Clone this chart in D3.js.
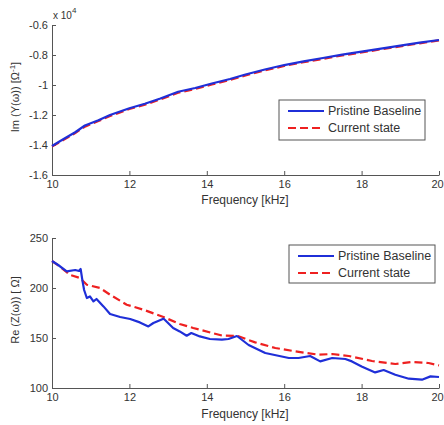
<!DOCTYPE html>
<html>
<head>
<meta charset="utf-8">
<script src="https://cdn.jsdelivr.net/npm/d3@7"></script>
<style>
  body { margin: 0; background: #fff; }
  svg { display: block; font-family: "Liberation Sans", Arial, sans-serif; }
  .axis path, .axis line { stroke: #555; }
  .axis text { fill: #333; font-size: 11px; }
</style>
</head>
<body>
<div class="chart"></div>
<script>
// Data (top panel values in units of 1e4)
const xTicks = [10, 12, 14, 16, 18, 20];
const topTicks = [-1.6, -1.4, -1.2, -1, -0.8, -0.6];
const topTickLabels = ['-1.6', '-1.4', '-1.2', '-1', '-0.8', '-0.6'];
const botTicks = [100, 150, 200, 250];

const topFreq = [10, 10.3, 10.6, 10.85, 11.2, 11.5, 12, 12.4, 12.8, 13.26, 13.7, 14.13, 14.6, 15, 15.5, 16, 16.5, 17, 17.5, 18, 18.5, 19, 19.5, 20];
const topPristine = [-1.407, -1.36, -1.315, -1.27, -1.235, -1.2, -1.155, -1.125, -1.09, -1.045, -1.02, -0.99, -0.96, -0.93, -0.897, -0.867, -0.843, -0.82, -0.798, -0.778, -0.757, -0.737, -0.718, -0.70];
const topCurrent = [-1.41, -1.366, -1.32, -1.278, -1.24, -1.207, -1.16, -1.131, -1.096, -1.052, -1.026, -0.997, -0.966, -0.936, -0.903, -0.873, -0.848, -0.826, -0.803, -0.783, -0.762, -0.742, -0.722, -0.703];

const botFreqPristine = [10, 10.16, 10.38, 10.6, 10.7, 10.74, 10.79, 10.83, 10.9, 10.98, 11.07, 11.15, 11.33, 11.5, 11.76, 12.02, 12.27, 12.49, 12.62, 12.88, 12.92, 13.13, 13.3, 13.48, 13.6, 13.82, 14.08, 14.39, 14.56, 14.78, 15.08, 15.51, 16.12, 16.37, 16.67, 16.93, 17.24, 17.58, 17.75, 18.0, 18.35, 18.57, 18.87, 19.22, 19.56, 19.78, 20];
const botPristine = [227, 223, 216.6, 218, 217, 219, 206.6, 198, 190, 191.6, 186.6, 189, 181.6, 174, 171, 169, 165.6, 161.6, 165, 169.3, 168, 160, 156.6, 152.3, 155, 151.6, 149, 148.3, 149, 152, 143, 135, 130, 130, 132, 126.6, 130, 129, 126.6, 121.6, 115.6, 118, 113.3, 109.3, 108.3, 111.6, 111];

const botFreqCurrent = [10, 10.2, 10.47, 10.72, 10.9, 11.24, 11.5, 11.93, 12.36, 12.88, 13.3, 13.65, 14.39, 14.8, 15.25, 15.77, 16.29, 16.89, 17.24, 17.67, 18.27, 18.87, 19.3, 19.73, 20];
const botCurrent = [227, 221.6, 213, 210, 203.3, 200, 193.3, 183.3, 178.3, 171, 164, 160, 152.5, 152, 145.6, 140, 136.6, 133.3, 134, 132, 127, 124, 126, 125, 122.6];

const seriesNames = ['Pristine Baseline', 'Current state'];
const blue = '#1f2fd8';
const red = '#ee2020';

// Base
const svg = d3.select('.chart')
  .append('svg')
  .attr('width', 444)
  .attr('height', 425);

// Scales
const xScale = d3.scaleLinear().domain([10, 20]).range([52, 439]);
const yTop = d3.scaleLinear().domain([-1.6, -0.6]).range([175, 25]);
const yBot = d3.scaleLinear().domain([100, 250]).range([388, 238]);

function drawPanel(yScale, yTickVals, yTickFmt, bottomY) {
  const xAxis = d3.axisBottom(xScale)
    .tickValues(xTicks)
    .tickSizeInner(-4)
    .tickSizeOuter(0)
    .tickPadding(5);
  const gx = svg.append('g')
    .attr('class', 'x axis')
    .attr('transform', `translate(0, ${bottomY})`)
    .call(xAxis);
  gx.selectAll('text').attr('dy', '0.71em');
  // keep the last label inside the window
  gx.selectAll('.tick').filter(d => d === 20).select('text').attr('dx', -2);

  const yAxis = d3.axisLeft(yScale)
    .tickValues(yTickVals)
    .tickFormat(yTickFmt)
    .tickSizeInner(-4)
    .tickSizeOuter(0)
    .tickPadding(4);
  svg.append('g')
    .attr('class', 'y axis')
    .attr('transform', `translate(${xScale(10)}, 0)`)
    .call(yAxis);
}

function drawLine(xs, ys, yScale, color, dashed) {
  const line = d3.line()
    .x((d, i) => xScale(xs[i]))
    .y(d => yScale(d));
  svg.append('path')
    .datum(ys)
    .attr('d', line)
    .attr('fill', 'none')
    .attr('stroke', color)
    .attr('stroke-width', 2.2)
    .attr('stroke-dasharray', dashed ? '8,4' : null)
    .attr('stroke-linejoin', 'round');
}

function drawLegend(x, y, w, h) {
  const g = svg.append('g').attr('transform', `translate(${x}, ${y})`);
  g.append('rect')
    .attr('width', w).attr('height', h)
    .attr('fill', '#fff').attr('stroke', '#555');
  seriesNames.forEach((name, i) => {
    const ly = 11 + i * 17;
    g.append('line')
      .attr('x1', 9).attr('x2', 45)
      .attr('y1', ly).attr('y2', ly)
      .attr('stroke', i === 0 ? blue : red)
      .attr('stroke-width', 2.2)
      .attr('stroke-dasharray', i === 0 ? null : '8,4');
    g.append('text')
      .attr('x', 49).attr('y', ly + 4)
      .style('font-size', '12.5px')
      .style('fill', '#333')
      .text(name);
  });
}

// Top panel
drawPanel(yTop, topTicks, (d, i) => topTickLabels[i], 175);
drawLine(topFreq, topCurrent, yTop, red, true);
drawLine(topFreq, topPristine, yTop, blue, false);
drawLegend(279, 100, 146, 40);

const mult = svg.append('text')
  .attr('x', 53).attr('y', 19)
  .style('font-size', '10px').style('fill', '#333');
mult.append('tspan').text('x 10');
mult.append('tspan').attr('dy', -6).style('font-size', '8px').text('4');

// Bottom panel
drawPanel(yBot, botTicks, d3.format('d'), 388);
drawLine(botFreqCurrent, botCurrent, yBot, red, true);
drawLine(botFreqPristine, botPristine, yBot, blue, false);
drawLegend(289, 245, 146, 38);

// Axis labels
svg.append('text')
  .attr('x', 245).attr('y', 204)
  .attr('text-anchor', 'middle')
  .style('font-size', '12px').style('fill', '#333')
  .text('Frequency [kHz]');
svg.append('text')
  .attr('x', 245).attr('y', 418)
  .attr('text-anchor', 'middle')
  .style('font-size', '12px').style('fill', '#333')
  .text('Frequency [kHz]');

const ylab1 = svg.append('text')
  .attr('transform', 'translate(19, 97) rotate(-90)')
  .attr('text-anchor', 'middle')
  .style('font-size', '11px').style('fill', '#333');
ylab1.append('tspan').text('Im (Y(ω)) [Ω');
ylab1.append('tspan').attr('dy', -4).style('font-size', '8px').text('-1');
ylab1.append('tspan').attr('dy', 4).text(']');

svg.append('text')
  .attr('transform', 'translate(19, 310) rotate(-90)')
  .attr('text-anchor', 'middle')
  .style('font-size', '11px').style('fill', '#333')
  .text('Re (Z(ω)) [ Ω]');
</script>
</body>
</html>
